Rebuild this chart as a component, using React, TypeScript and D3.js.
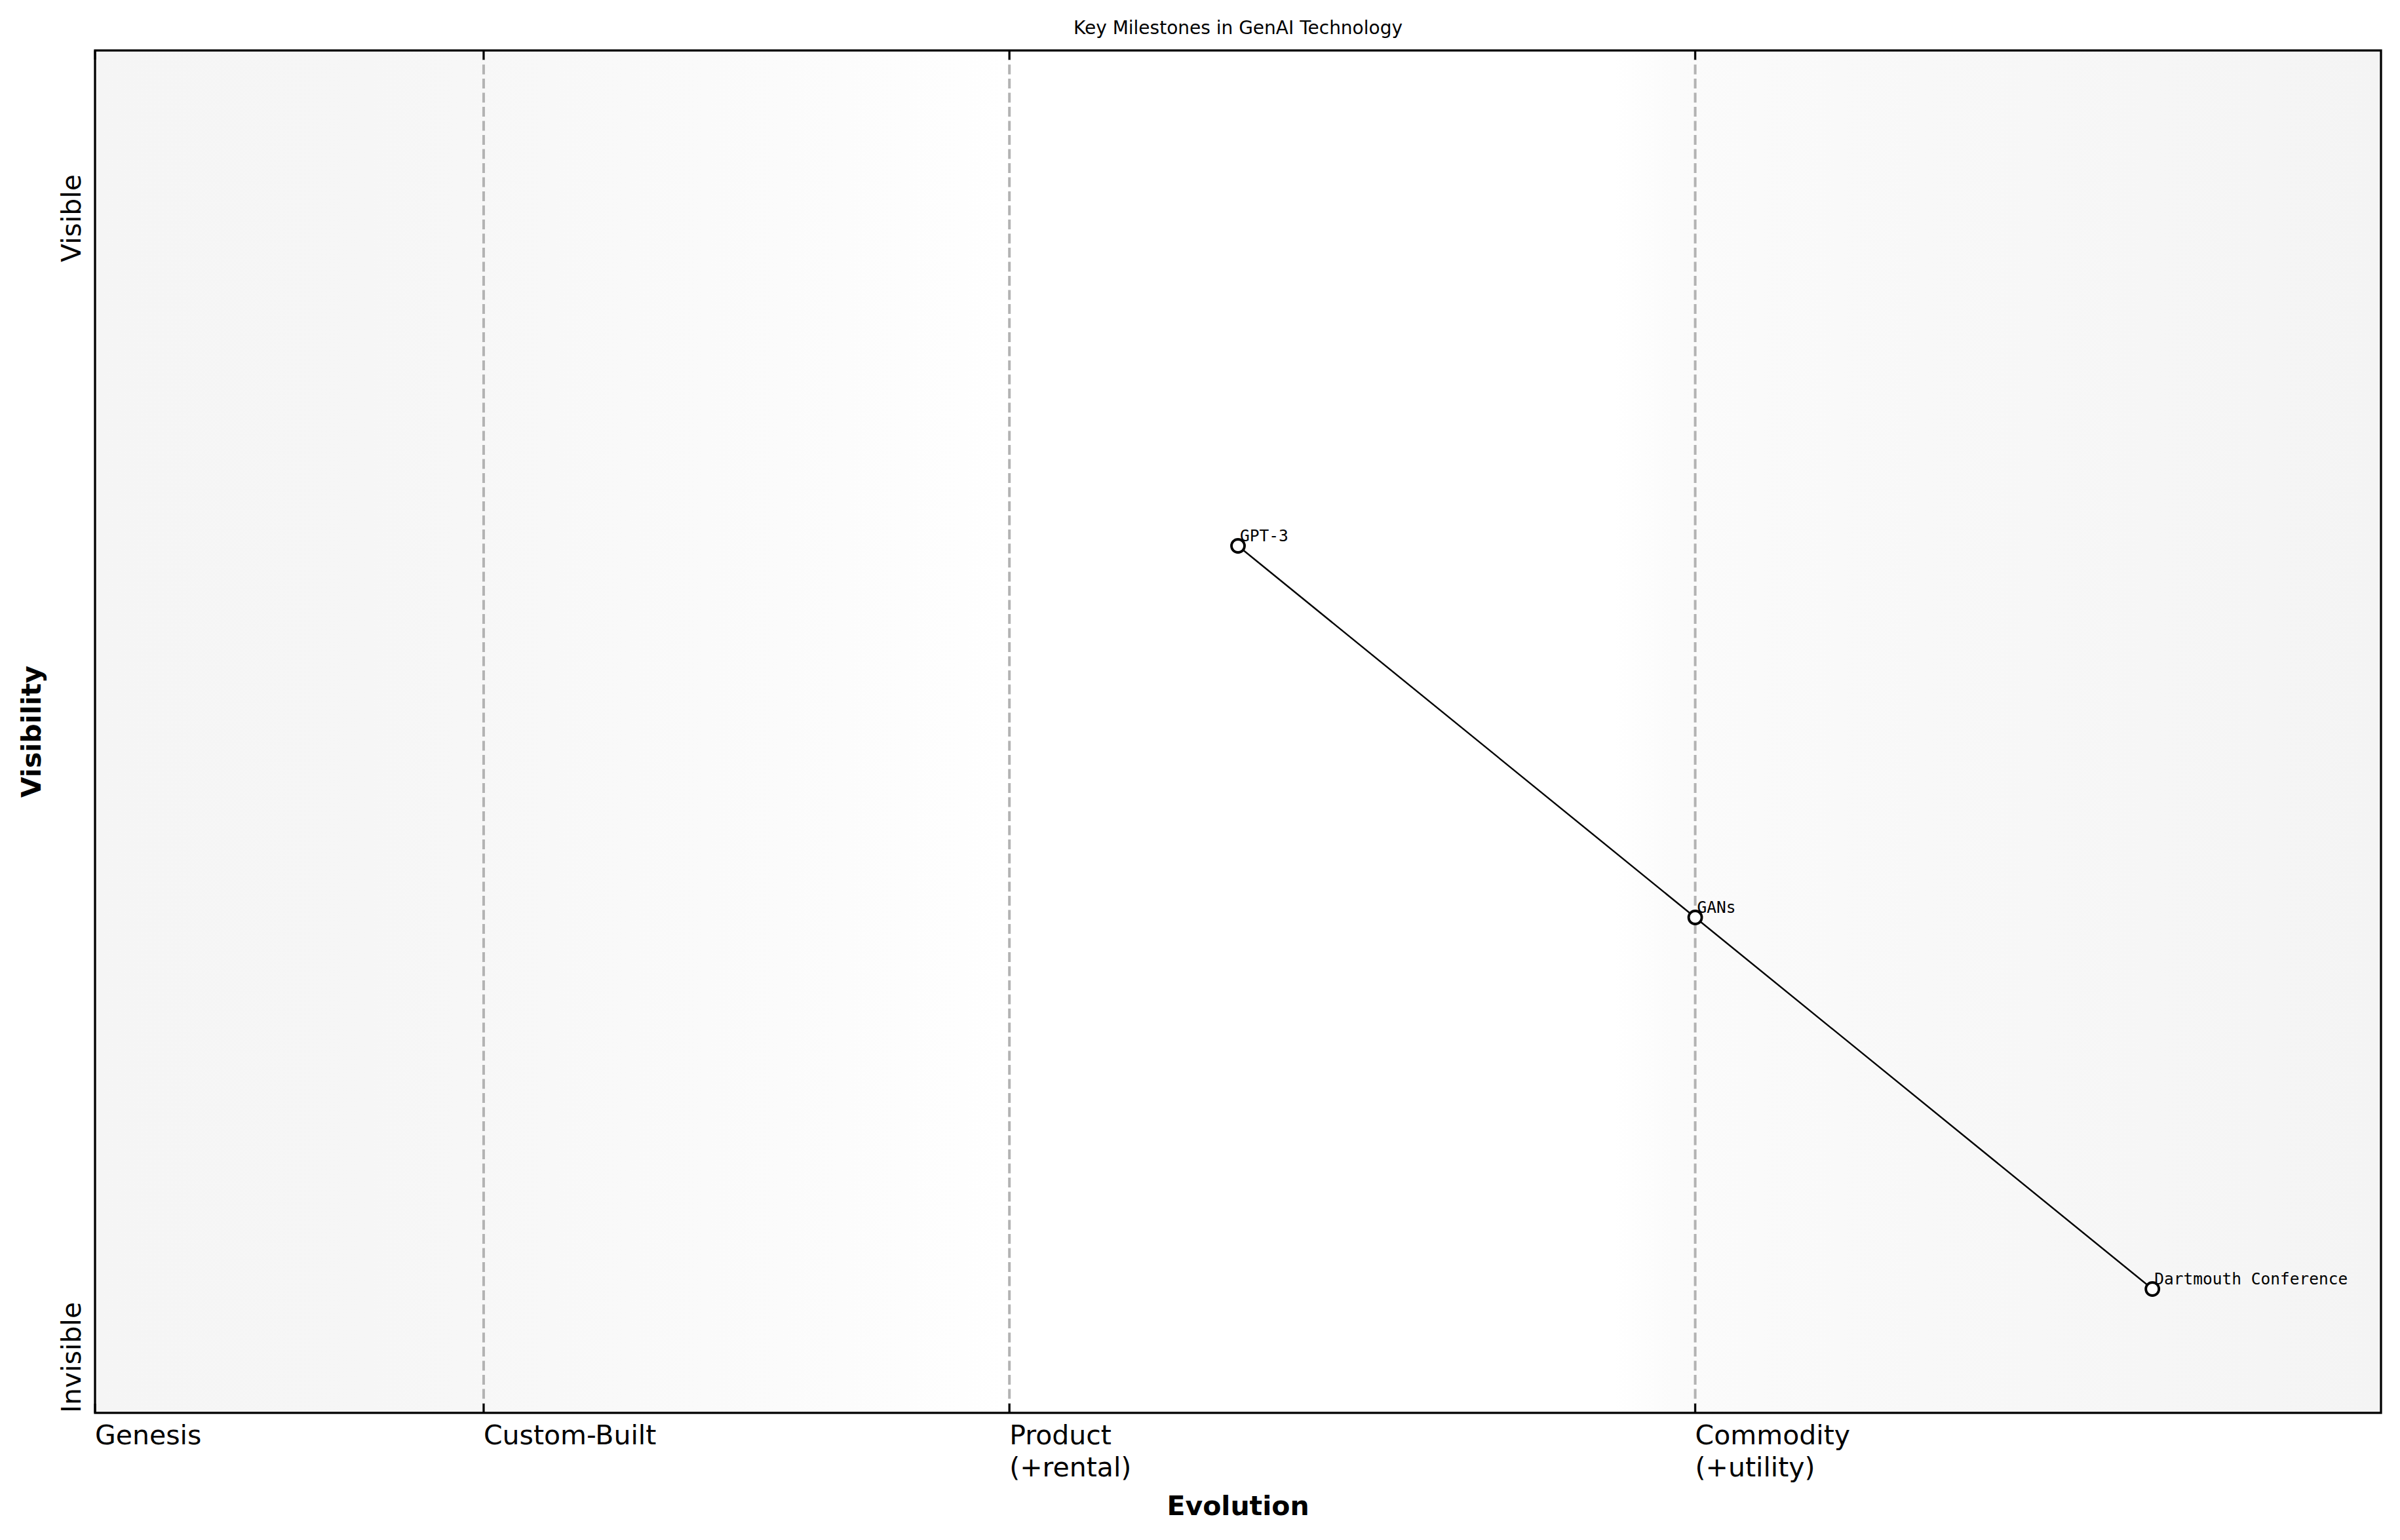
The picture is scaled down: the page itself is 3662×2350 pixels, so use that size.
import React, { useEffect, useRef } from "react";
import * as d3 from "d3";

// Wardley-style map data
const stageLabels = ["Genesis", "Custom-Built", "Product\n(+rental)", "Commodity\n(+utility)"];
const stagePositions = [0, 0.17, 0.4, 0.7];
const visibilityLabels = ["Invisible", "Visible"];
const visibilityPositions = [0, 1];
const milestones = ["Dartmouth Conference", "GANs", "GPT-3"];
const evolution = [0.9, 0.7, 0.5];
const visibility = [0.1, 0.4, 0.7];

const App: React.FC = () => {
  const ref = useRef<SVGSVGElement | null>(null);

  useEffect(() => {
    const width = 3662,
      height = 2350;
    const left = 145,
      right = 3633,
      top = 77,
      bottom = 2156;

    const svg = d3.select(ref.current);
    svg.selectAll("*").remove();
    svg.attr("width", width).attr("height", height);

    const x = d3.scaleLinear().domain([0, 1]).range([left, right]);
    const y = d3.scaleLinear().domain([0, 1.1]).range([bottom, top]);

    // background gradient
    const grad = svg
      .append("defs")
      .append("linearGradient")
      .attr("id", "bg")
      .attr("x1", "0")
      .attr("x2", "1")
      .attr("y1", "0")
      .attr("y2", "0");
    const stops: [number, string][] = [
      [0, "#f5f5f5"],
      [0.12, "#f6f6f6"],
      [0.2, "#f8f8f8"],
      [0.3, "#fbfbfb"],
      [0.38, "#fefefe"],
      [0.4, "#ffffff"],
      [0.665, "#ffffff"],
      [0.69, "#fbfbfb"],
      [0.8, "#f8f8f8"],
      [1, "#f4f4f4"],
    ];
    stops.forEach(([o, c]) => grad.append("stop").attr("offset", o).attr("stop-color", c));

    svg
      .append("rect")
      .attr("x", left)
      .attr("y", top)
      .attr("width", right - left)
      .attr("height", bottom - top)
      .attr("fill", "url(#bg)");

    // stage dividers
    svg
      .selectAll(".divider")
      .data(stagePositions.slice(1))
      .enter()
      .append("line")
      .attr("x1", (d) => x(d))
      .attr("x2", (d) => x(d))
      .attr("y1", top)
      .attr("y2", bottom)
      .attr("stroke", "#b3b3b3")
      .attr("stroke-width", 4)
      .attr("stroke-dasharray", "15,6.5");

    // connecting line
    const pts = evolution.map((e, i) => [e, visibility[i]] as [number, number]);
    const line = d3
      .line<[number, number]>()
      .x((d) => x(d[0]))
      .y((d) => y(d[1]));
    svg
      .append("path")
      .attr("d", line(pts)!)
      .attr("fill", "none")
      .attr("stroke", "#000")
      .attr("stroke-width", 2.4);

    // markers
    svg
      .selectAll(".pt")
      .data(pts)
      .enter()
      .append("circle")
      .attr("cx", (d) => x(d[0]))
      .attr("cy", (d) => y(d[1]))
      .attr("r", 10)
      .attr("fill", "#fff")
      .attr("stroke", "#000")
      .attr("stroke-width", 3.8);

    // milestone labels
    svg
      .selectAll(".lbl")
      .data(milestones)
      .enter()
      .append("text")
      .attr("x", (d, i) => x(evolution[i]) + 3)
      .attr("y", (d, i) => y(visibility[i]) - 7)
      .attr("font-family", "DejaVu Sans Mono")
      .attr("font-size", 24.5)
      .text((d) => d);

    // spines
    svg
      .append("rect")
      .attr("x", left)
      .attr("y", top)
      .attr("width", right - left)
      .attr("height", bottom - top)
      .attr("fill", "none")
      .attr("stroke", "#000")
      .attr("stroke-width", 3.3);

    // ticks (inward, top and bottom)
    stagePositions.forEach((p) => {
      svg.append("line").attr("x1", x(p)).attr("x2", x(p)).attr("y1", bottom).attr("y2", bottom - 14).attr("stroke", "#000").attr("stroke-width", 3);
      svg.append("line").attr("x1", x(p)).attr("x2", x(p)).attr("y1", top).attr("y2", top + 14).attr("stroke", "#000").attr("stroke-width", 3);
    });

    // x tick labels
    const xt = svg
      .selectAll(".xtick")
      .data(stageLabels)
      .enter()
      .append("text")
      .attr("font-family", "DejaVu Sans")
      .attr("font-size", 41)
      .attr("fill", "#000");
    xt.each(function (d, i) {
      const t = d3.select(this);
      d.split("\n").forEach((s, j) => {
        t.append("tspan")
          .attr("x", x(stagePositions[i]))
          .attr("y", 2204 + j * 49)
          .text(s);
      });
    });

    // y tick labels
    svg
      .selectAll(".ytick")
      .data(visibilityLabels)
      .enter()
      .append("text")
      .attr("transform", (d, i) => `translate(123,${y(visibilityPositions[i])}) rotate(-90)`)
      .attr("text-anchor", (d, i) => (i === 0 ? "start" : "end"))
      .attr("font-family", "DejaVu Sans")
      .attr("font-size", 41)
      .text((d) => d);

    // title and axis labels
    svg
      .append("text")
      .attr("x", (left + right) / 2)
      .attr("y", 52)
      .attr("text-anchor", "middle")
      .attr("font-family", "DejaVu Sans")
      .attr("font-size", 28)
      .text("Key Milestones in GenAI Technology");

    svg
      .append("text")
      .attr("x", (left + right) / 2)
      .attr("y", 2312)
      .attr("text-anchor", "middle")
      .attr("font-family", "DejaVu Sans")
      .attr("font-weight", "bold")
      .attr("font-size", 41)
      .text("Evolution");

    svg
      .append("text")
      .attr("transform", `translate(62,${(top + bottom) / 2}) rotate(-90)`)
      .attr("text-anchor", "middle")
      .attr("font-family", "DejaVu Sans")
      .attr("font-weight", "bold")
      .attr("font-size", 41)
      .text("Visibility");
  }, []);

  return (
    <svg
      ref={ref}
      style={{ position: "absolute", left: 0, top: 0, background: "#fff" }}
    />
  );
};

export default App;
